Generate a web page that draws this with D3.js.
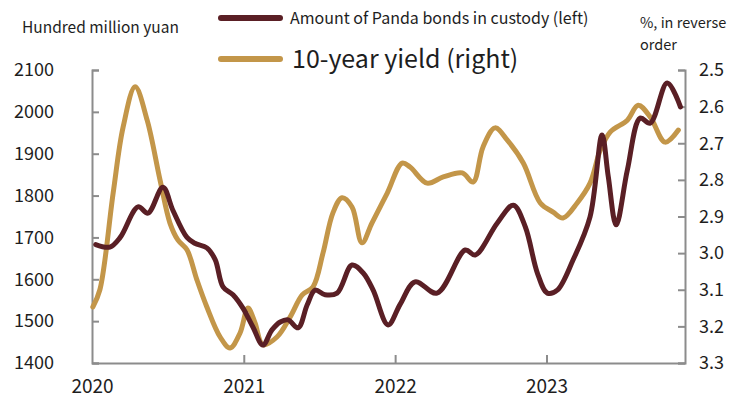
<!DOCTYPE html>
<html>
<head>
<meta charset="utf-8">
<script src="https://cdn.jsdelivr.net/npm/d3@7"></script>
<style>
  html, body { margin: 0; padding: 0; background: #ffffff; }
  svg text { font-family: "Noto Sans CJK SC", "Noto Sans", sans-serif; fill: #1e1e1e; }
</style>
</head>
<body>
<svg id="chart" width="732" height="405"></svg>
<script>
// ---- data ----
const pandaDates = ["2020-01-10","2020-02-13","2020-03-09","2020-04-21","2020-05-15","2020-06-20","2020-07-14","2020-08-17","2020-09-05","2020-10-04","2020-10-24","2020-11-12","2020-12-06","2020-12-30","2021-01-23","2021-02-16","2021-03-10","2021-03-30","2021-04-18","2021-05-12","2021-06-03","2021-06-22","2021-07-16","2021-08-14","2021-09-19","2021-10-16","2021-11-09","2021-12-15","2022-01-13","2022-02-18","2022-04-12","2022-06-19","2022-07-13","2022-09-04","2022-10-13","2022-11-11","2022-12-10","2023-01-03","2023-01-27","2023-03-06","2023-04-16","2023-05-15","2023-05-30","2023-06-18","2023-07-15","2023-08-15","2023-09-08","2023-10-19","2023-11-20"];
const pandaValues = [1683,1677,1700,1773,1758,1820,1765,1700,1686,1675,1647,1582,1563,1531,1486,1443,1479,1498,1503,1484,1539,1574,1563,1567,1634,1615,1574,1491,1540,1594,1567,1670,1658,1734,1777,1725,1615,1567,1574,1646,1749,1945,1845,1730,1861,1985,1973,2069,2012];

const yieldDates = ["2020-01-03","2020-01-20","2020-02-21","2020-03-16","2020-04-14","2020-05-13","2020-06-13","2020-07-07","2020-07-26","2020-08-17","2020-09-10","2020-10-04","2020-11-05","2020-11-29","2020-12-23","2021-01-11","2021-01-28","2021-02-16","2021-03-22","2021-04-23","2021-05-22","2021-06-17","2021-07-11","2021-08-04","2021-08-26","2021-09-19","2021-10-13","2021-11-06","2021-12-13","2022-01-18","2022-02-06","2022-03-19","2022-04-27","2022-06-12","2022-07-08","2022-08-01","2022-08-30","2022-09-28","2022-11-06","2022-12-17","2023-01-17","2023-02-10","2023-03-16","2023-04-16","2023-05-11","2023-06-04","2023-07-15","2023-08-10","2023-09-08","2023-10-14","2023-11-15"];
const yieldValues = [3.147,3.10,2.836,2.656,2.546,2.637,2.80,2.918,2.964,2.991,3.073,3.147,3.229,3.259,3.218,3.150,3.19,3.25,3.229,3.174,3.114,3.092,3.0,2.89,2.849,2.874,2.972,2.918,2.836,2.754,2.765,2.809,2.792,2.781,2.806,2.71,2.658,2.691,2.754,2.863,2.888,2.904,2.863,2.809,2.718,2.669,2.637,2.596,2.628,2.697,2.664];

const leftTicks = [1400,1500,1600,1700,1800,1900,2000,2100];
const rightTicks = [2.5,2.6,2.7,2.8,2.9,3.0,3.1,3.2,3.3];
const yearTicks = ["2020","2021","2022","2023"];

const seriesNames = ["Amount of Panda bonds in custody (left)", "10-year yield (right)"];
const leftUnit = "Hundred million yuan";
const rightUnit = ["%, in reverse", "order"];

// ---- layout ----
const parse = d3.timeParse("%Y-%m-%d");
const X0 = 92, X1 = 685, Y0 = 70, Y1 = 363;
const colPanda = "#5a1f25", colYield = "#c39649", axisCol = "#8c8c8c";

const x = d3.scaleTime().domain([parse("2020-01-01"), parse("2023-12-01")]).range([X0, X1]);
const yL = d3.scaleLinear().domain([1400, 2100]).range([Y1, Y0]);
const yR = d3.scaleLinear().domain([3.3, 2.5]).range([Y1, Y0]);

const svg = d3.select("#chart");

// axes
const gL = svg.append("g").attr("transform", `translate(${X0},0)`)
  .call(d3.axisLeft(yL).tickValues(leftTicks).tickFormat(d3.format("d")).tickSizeInner(-7).tickSizeOuter(-7).tickPadding(38));
const gR = svg.append("g").attr("transform", `translate(${X1},0)`)
  .call(d3.axisRight(yR).tickValues(rightTicks).tickFormat(d3.format(".1f")).tickSizeInner(-7).tickSizeOuter(-7).tickPadding(14));
const gB = svg.append("g").attr("transform", `translate(0,${Y1})`)
  .call(d3.axisBottom(x).tickValues(yearTicks.map(d => parse(d + "-01-01"))).tickFormat(d3.timeFormat("%Y")).tickSizeInner(-8).tickSizeOuter(0).tickPadding(17));

[gL, gR, gB].forEach(g => {
  g.selectAll("path.domain").attr("stroke", axisCol).attr("stroke-width", 2);
  g.selectAll(".tick line").attr("stroke", axisCol).attr("stroke-width", 2);
  g.selectAll(".tick text").attr("font-size", 18).attr("fill", "#1e1e1e");
});
gB.selectAll(".tick text").attr("font-size", 19);
gB.selectAll(".tick").filter((d, i) => i === 0).select("line").remove();

// lines
const lineL = d3.line().x(d => x(d[0])).y(d => yL(d[1])).curve(d3.curveCatmullRom.alpha(0.5));
const lineR = d3.line().x(d => x(d[0])).y(d => yR(d[1])).curve(d3.curveCatmullRom.alpha(0.5));

const pandaData = pandaDates.map((d, i) => [parse(d), pandaValues[i]]);
const yieldData = yieldDates.map((d, i) => [parse(d), yieldValues[i]]);

svg.append("path").datum(yieldData).attr("d", lineR)
  .attr("fill", "none").attr("stroke", colYield).attr("stroke-width", 5).attr("stroke-linejoin", "round").attr("stroke-linecap", "round");
svg.append("path").datum(pandaData).attr("d", lineL)
  .attr("fill", "none").attr("stroke", colPanda).attr("stroke-width", 5).attr("stroke-linejoin", "round").attr("stroke-linecap", "round");

// units
svg.append("text").attr("x", 22).attr("y", 33).attr("font-size", 15.5).text(leftUnit);
svg.append("text").attr("x", 640).attr("y", 28).attr("font-size", 14.5).text(rightUnit[0]);
svg.append("text").attr("x", 640).attr("y", 50).attr("font-size", 14.5).text(rightUnit[1]);

// legend
const legend = svg.append("g");
legend.append("line").attr("x1", 221).attr("x2", 280).attr("y1", 18).attr("y2", 18)
  .attr("stroke", colPanda).attr("stroke-width", 6).attr("stroke-linecap", "round");
legend.append("text").attr("x", 290).attr("y", 24).attr("font-size", 16).text(seriesNames[0]);
legend.append("line").attr("x1", 221).attr("x2", 280).attr("y1", 59).attr("y2", 59)
  .attr("stroke", colYield).attr("stroke-width", 6).attr("stroke-linecap", "round");
legend.append("text").attr("x", 292).attr("y", 68).attr("font-size", 25).text(seriesNames[1]);
</script>
</body>
</html>
